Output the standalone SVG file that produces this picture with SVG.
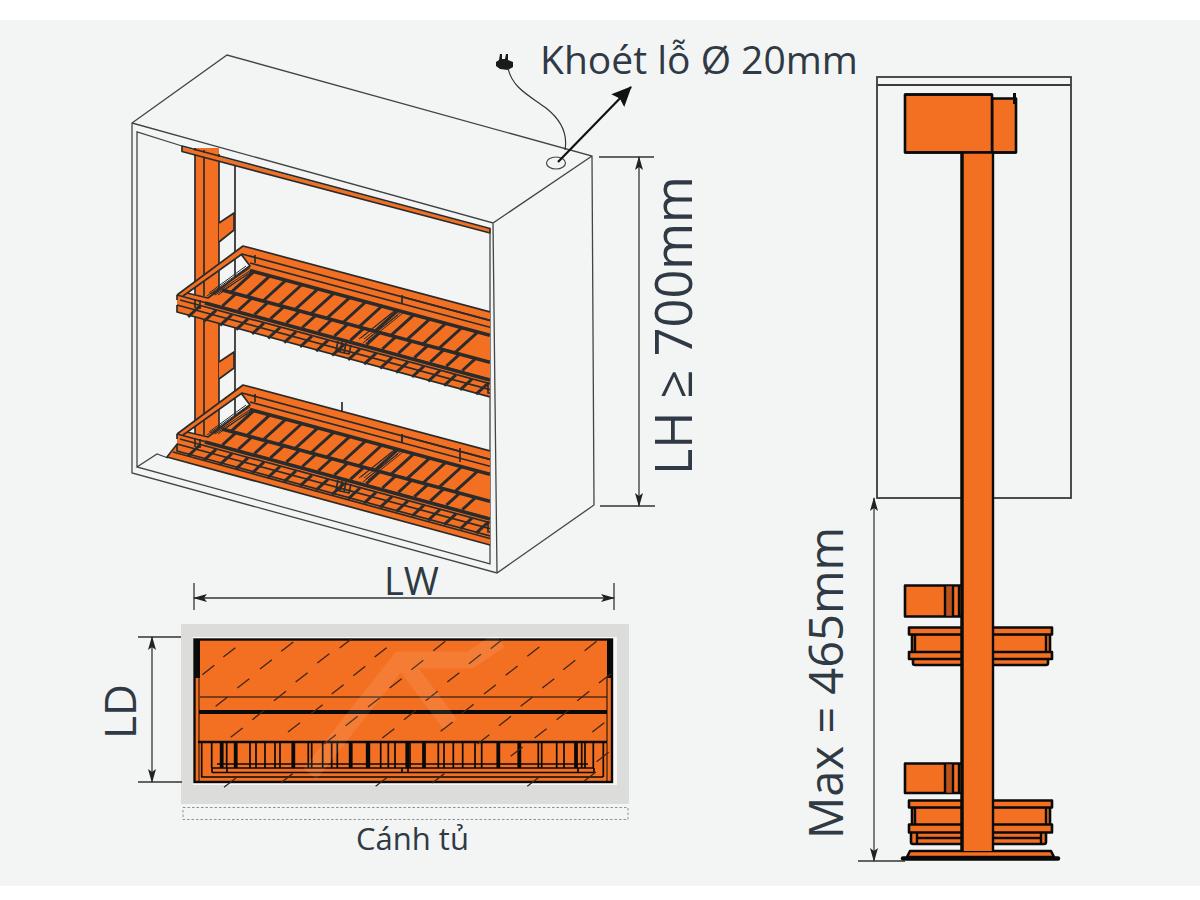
<svg xmlns="http://www.w3.org/2000/svg" xmlns:xlink="http://www.w3.org/1999/xlink" width="1200" height="900" viewBox="0 0 1200 900">
<style>
.bg{fill:#f3f5f5}
.or{fill:#f36f21}
.cab{fill:none;stroke:#444;stroke-width:1.3}
.k{fill:none;stroke:#2b2b2b;stroke-width:1.7;stroke-linejoin:round}
.s{fill:none;stroke:#2b2b2b;stroke-width:3}
.bar{fill:none;stroke:#2b2b2b;stroke-width:3.6}
.thin{fill:none;stroke:#2b2b2b;stroke-width:1}
.blk{stroke:#0a0a0a;stroke-width:2.600;stroke-linejoin:round}
.blkl{fill:none;stroke:#0a0a0a;stroke-width:2.400}
.dim{fill:none;stroke:#333;stroke-width:1.3}
.sideln{fill:none;stroke:#3a3a3a;stroke-width:1.8}
text{font-family:"Open Sans","Noto Sans",sans-serif;fill:#2f3a44}
</style>
<defs>
<marker id="dimhead" viewBox="0 0 14 8" markerWidth="14" markerHeight="8" refX="13" refY="4" orient="auto-start-reverse" markerUnits="userSpaceOnUse"><path d="M0 0L14 4L0 8L3 4Z" fill="#222"/></marker>
<marker id="bighead" viewBox="0 0 20 18" markerWidth="20" markerHeight="18" refX="19" refY="9" orient="auto" markerUnits="userSpaceOnUse"><path d="M0 0L20 9L0 18L3 9Z" fill="#111"/></marker>
<clipPath id="cabclip"><rect x="100" y="100" width="390" height="480"/></clipPath>
<g id="shelf" clip-path="url(#cabclip)">
<path class="or" d="M177 295L243 246L490 312V397L177 312Z"/>
<path class="bg" d="M187 293L241 254L250 266L208 298Z"/>
<path class="or" d="M195 287L219 270V290L208 298L195 295Z"/>
<path class="k" d="M177 295L243 246L490 312M177 295V300M177 305V312L490 397M183 296L242 254L490 320.5M187 293L208 298L250 266L241 254M195 287V295M204 281V296M219 270V290M235 259V278"/>
<path class="k" d="M255 255V263M402 295V303M403 297L490 320.5M250 263L490 327.3M177 295L490 379.5M180 300L490 383.7M177 305L490 389.6"/>
<path class="bar" d="M250 270.5L490 335.3M222 290L490 362.3M205 303L490 380"/>
<path class="thin" d="M207 296L249 266M209 293L246 266M211 294L250 268M213 295L251 270M215 295L252 272M218 295L253 270"/>
<path class="s" d="M254 271.6l-23 20.8m39-16.5l-23 20.8m39-16.5l-23 20.8m39-16.5l-23 20.8m39-16.5l-23 20.8m39-16.5l-23 20.8m39-16.5l-23 20.8m39-16.5l-23 20.8m39-16.5l-23 20.8m39-16.5l-23 20.8m39-16.5l-23 20.8m39-16.5l-23 20.8m39-16.5l-23 20.8m39-16.5l-23 20.8m39-16.5l-23 20.8"/>
<path class="s" d="M236 293.7l-13.6 12.3m29.6-8l-13.6 12.3m29.6-8l-13.6 12.3m29.6-8l-13.6 12.3m29.6-8l-13.6 12.3m29.6-8l-13.6 12.3m29.6-8l-13.6 12.3m29.6-8l-13.6 12.3m29.6-8l-13.6 12.3m29.6-8l-13.6 12.3m29.6-8l-13.6 12.3m29.6-8l-13.6 12.3m29.6-8l-13.6 12.3m29.6-8l-13.6 12.3m29.6-8l-13.6 12.3m29.6-8l-13.6 12.3"/>
<path class="s" d="M200 306l-11.9 10.8m27.9-6.5l-11.9 10.8m27.9-6.5l-11.9 10.8m27.9-6.5l-11.9 10.8m27.9-6.5l-11.9 10.8m27.9-6.5l-11.9 10.8m27.9-6.5l-11.9 10.8m27.9-6.5l-11.9 10.8m27.9-6.5l-11.9 10.8m27.9-6.5l-11.9 10.8m27.9-6.5l-11.9 10.8m27.9-6.5l-11.9 10.8m27.9-6.5l-11.9 10.8m27.9-6.5l-11.9 10.8m27.9-6.5l-11.9 10.8m27.9-6.5l-11.9 10.8m27.9-6.5l-11.9 10.8m27.9-6.5l-11.9 10.8m27.9-6.5l-11.9 10.8"/>
<path class="thin" d="M399 311L364 339M396 310L361 338M401 312L366 340M403 313L368 341M398 315L363 343M394 311L359 339"/>
<path class="k" d="M338 341L336 351L349 354L351 345M342 342L340 352M346 343L344 353M488 382V393H490M195 299V308M200 300V309"/>
</g>
</defs>
<rect x="0" y="0" width="1200" height="900" fill="#fff"/>
<rect class="bg" x="0" y="20" width="1200" height="866"/>

<g id="cabinet-3d">
<path class="or" d="M195 148H219V428H195Z"/>
<path class="k" d="M195 148V428M204 150V428M219 154V428M235 165V403"/>
<path class="or" d="M219 223L234 213V230L219 242Z"/>
<path class="k" d="M219 223L234 213V230L219 242"/>
<path class="or" d="M219 362L234 352V368L219 379Z"/>
<path class="k" d="M219 362L234 352V368L219 379"/>
<path class="or" d="M182 147L490 229V233L182 151Z"/>
<path class="k" d="M182 146L490 228.500V233L182 151.500Z"/>
<path class="cab" d="M132 123L227 55L592 156L594 505L497 573L132 473ZM132 123L493 223L592 156M493 223L497 573M137 467V132L182 146M490 232V564L137 467L157 454L168 458"/>
</g>

<g id="shelf-upper"><use xlink:href="#shelf" href="#shelf"/></g>
<g id="shelf-lower">
<path class="or" d="M178 443L167 457L490 545V520Z"/>
<path class="k" d="M178 443L167 457L490 545M173 452L490 538.500"/>
<use xlink:href="#shelf" href="#shelf" y="139"/>
<path class="k" d="M342 402V412M402 434V443M460 448V462"/>
</g>

<g id="plug">
<path d="M496 62L499 60L500 54L502 54L502 59L505 59L506 54L508 54L508 60L513 62L513 67L508 70L500 69L496 66Z" fill="#1a1a1a"/>
<path d="M508 68C512 88 530 96 546 108C560 119 568 133 565 150" fill="none" stroke="#333" stroke-width="1.2"/>
<ellipse cx="556" cy="163" rx="9.500" ry="6" fill="none" stroke="#444" stroke-width="1.2"/>
</g>

<g id="top-view">
<rect x="181" y="624" width="448" height="180" fill="#dcdcda"/>
<rect x="193" y="637" width="424" height="148" fill="#f8f8f8"/>
<rect class="or" x="194" y="639" width="419" height="144"/>
<rect class="blkl" x="194.500" y="639.500" width="417.500" height="142.500"/>
<path fill="#0a0a0a" d="M194 639H200V678H194ZM607 639H612V678H607Z"/>
<path class="blkl" style="stroke-width:1" d="M200 697H607M199 639V782M607 678V782"/>
<path class="blkl" style="stroke-width:4" d="M199 712H607"/>
<path class="blkl" d="M198 742H607"/>
<path class="blkl" style="stroke-width:1.700" d="M201.700 743V777M211.700 743V768M226.700 743V768M250 743V768M256 743V768M265 743V768M275 743V768M280 743V768M308.300 743V768M311.700 743V768M322.700 743V768M331.700 743V768M337.300 743V768M366.700 743V768M380.700 743V768M388.300 743V768M395 743V768M410 743V768M438.300 743V768M444 743V768M453.300 743V768M462.700 743V768M475 743V768M481.700 743V768M538.300 743V768M541.700 743V768M556.700 743V768M564 743V768M581.700 743V768M585 743V768M593.300 743V768M603.300 743V777"/>
<path class="blkl" style="stroke-width:3.800" d="M221.700 743V768M235.700 743V768M293.300 743V768M350.700 743V768M368.300 743V768M407.300 743V768M424 743V768M498.300 743V768M519.300 743V768M576 743V768"/>
<path class="blkl" style="stroke-width:1.400" d="M217 764H588M212 768H594M212 772.500H594M201 777H603"/>
<path class="blkl" style="stroke-width:1.700" d="M212 768V772.500M227 768V772.500M402 768V773M408 768V773M578 768V773M594 768V772.500"/>
<path transform="translate(170 610) scale(.3333)" fill="none" stroke="#3f2617" stroke-width="4" d="M160 141l36-28M334 124l36-28M509 114l36-28M614 141l36-28M790 122l36-28M962 116l36-28M1072 139l36-28M1244 122l36-28M97 194l36-28M270 177l36-28M442 159l36-28M550 197l36-28M724 179l36-28M897 161l36-28M1007 196l36-28M1180 179l36-28M202 234l36-28M377 216l36-28M485 252l36-28M659 234l36-28M832 216l36-28M1117 234l36-28M1287 219l36-28M137 289l36-28M312 272l36-28M594 291l36-28M767 272l36-28M942 252l36-28M1052 289l36-28M1222 272l36-28M247 329l36-28M422 312l36-28M527 347l36-28M702 329l36-28M875 311l36-28M987 347l36-28M1160 329l36-28M182 382l36-28M354 366l36-28M462 402l36-28M637 384l36-28M812 364l36-28M922 402l36-28M1094 384l36-28M1267 366l36-28M1022 439l36-28M1280 455l36-28M162 532l36-28M332 519l36-28M617 529l36-28M787 519l36-28M1072 529l36-28M1242 514l36-28"/>
<path fill="none" stroke="#fff" stroke-opacity=".09" stroke-width="17" d="M310 774L400 660H470L500 640M402 660L450 724"/>
</g>
<rect id="door" x="183" y="807.500" width="445" height="12" fill="none" stroke="#777" stroke-width=".8" stroke-dasharray="2.500 2"/>

<g id="side-view">
<rect x="877" y="77" width="194" height="421" fill="none" stroke="#3a3a3a" stroke-width="1.800"/>
<path class="sideln" d="M877 85H1071"/>
<rect class="or blk" x="992" y="98.500" width="24" height="54"/>
<path class="blkl" style="stroke-width:3" d="M1014.500 93V104"/>
<rect class="or blk" x="905" y="94.500" width="87" height="58"/>
<rect class="or blk" x="905" y="585.500" width="58" height="31"/>
<path fill="#a9481a" d="M945 586H953V616H945Z" fill-opacity=".75"/>
<path class="blkl" d="M945 586V616M953 586V616M959 586V616"/>
<rect class="or blk" x="905" y="763.500" width="58" height="29.500"/>
<path fill="#a9481a" d="M945 764H953V793H945Z" fill-opacity=".75"/>
<path class="blkl" d="M945 764V793M953 764V793M959 764V793"/>
<g id="basket-upper">
<rect class="or blk" x="913" y="657" width="135" height="8" rx="2"/>
<rect class="or blk" x="912" y="634" width="138" height="20"/>
<rect class="or blk" x="909" y="627.500" width="143" height="7"/>
<rect class="or blk" x="909" y="652" width="143" height="7"/>
<path class="blkl" d="M915 635V652M1046 635V652"/>
</g>
<g id="basket-lower">
<rect class="or blk" x="911" y="831" width="135" height="13" rx="2"/>
<path class="blkl" d="M917 838H1042M917 832V843M1041 832V843"/>
<rect class="or blk" x="912" y="807" width="138" height="20"/>
<rect class="or blk" x="909" y="800.500" width="143" height="7"/>
<rect class="or blk" x="909" y="824.500" width="143" height="8"/>
<path class="blkl" d="M915 808V824M1046 808V824"/>
</g>
<path class="or blk" d="M907 857L910 851H1051L1054 857Z"/>
<path fill="none" stroke="#0a0a0a" stroke-width="4.500" stroke-linecap="round" d="M903 858.500H1058"/>
<rect class="or" x="962" y="152" width="31" height="699"/>
<path class="blkl" d="M993 152V851"/>
<path class="blkl" style="stroke-width:3.500" d="M962 152V851"/>
<path class="blkl" d="M905 94.500H992M905 152.500H1016"/>
</g>

<g id="connectors">
<path d="M558 162L631 87" fill="none" stroke="#111" stroke-width="2.200" marker-end="url(#bighead)"/>
<path class="dim" d="M599 157H654M600 506H655"/>
<path class="dim" d="M639 157V506" marker-start="url(#dimhead)" marker-end="url(#dimhead)"/>
<path class="dim" d="M194 583V610M614 583V610"/>
<path class="dim" d="M194 598H614" marker-start="url(#dimhead)" marker-end="url(#dimhead)"/>
<path class="dim" d="M138 637H181M138 782H182"/>
<path class="dim" d="M152 637V782" marker-start="url(#dimhead)" marker-end="url(#dimhead)"/>
<path class="dim" d="M858 861H905"/>
<path fill="none" stroke="#555" stroke-width="1.500" d="M874 498V861" marker-start="url(#dimhead)" marker-end="url(#dimhead)"/>
</g>

<g id="labels">
<text x="540" y="74" font-size="39">Khoét lỗ Ø 20mm</text>
<text transform="translate(692 475) rotate(-90)" font-size="50.500">LH ≥ 700mm</text>
<text x="384" y="595" font-size="38">LW</text>
<text transform="translate(136 739) rotate(-90)" font-size="44">LD</text>
<text transform="translate(843 839) rotate(-90)" font-size="47">Max = 465mm</text>
<text x="356" y="850" font-size="31">Cánh tủ</text>
</g>
</svg>
